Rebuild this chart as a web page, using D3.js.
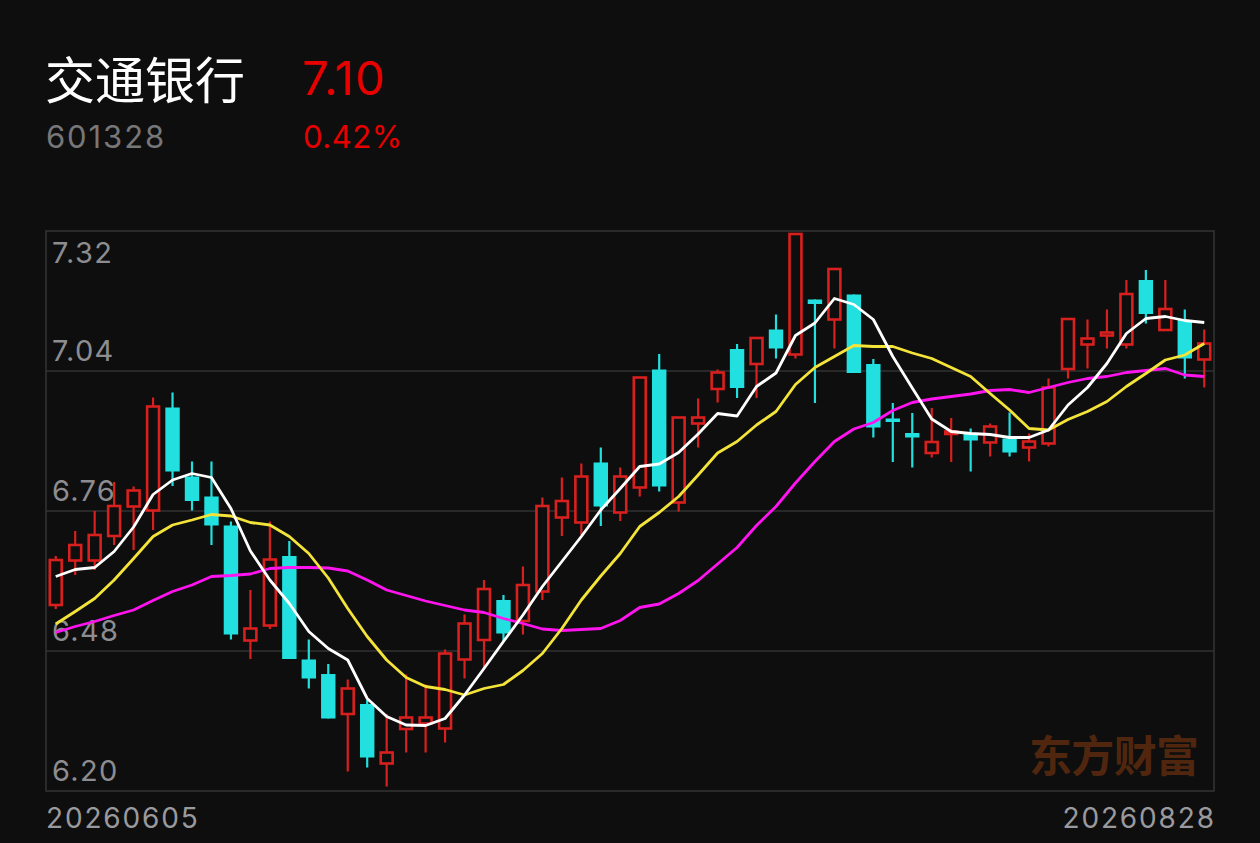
<!DOCTYPE html>
<html>
<head>
<meta charset="utf-8">
<script src="https://cdn.jsdelivr.net/npm/d3@7/dist/d3.min.js"></script>
<style>
  html, body { margin: 0; padding: 0; background: #0e0e0e; }
  svg { display: block; }
</style>
</head>
<body>
<script>
const stockName = "交通银行";
const stockCode = "601328";
const lastPrice = "7.10";
const changePct = "0.42%";
const watermark = "东方财富";

const dates = ["20260605","20260608","20260609","20260610","20260611","20260612",
"20260615","20260616","20260617","20260618","20260622","20260623","20260624","20260625","20260626",
"20260629","20260630","20260701","20260702","20260703","20260706","20260707","20260708","20260709","20260710",
"20260713","20260714","20260715","20260716","20260717","20260720","20260721","20260722","20260723","20260724",
"20260727","20260728","20260729","20260730","20260731","20260803","20260804","20260805","20260806","20260807",
"20260810","20260811","20260812","20260813","20260814","20260817","20260818","20260819","20260820","20260821",
"20260824","20260825","20260826","20260827","20260828"];

const openP  = [6.572,6.661,6.661,6.710,6.769,6.761,6.967,6.829,6.789,6.731,6.501,6.531,6.670,6.463,6.434,6.354,6.374,6.255,6.324,6.335,6.325,6.463,6.502,6.582,6.540,6.599,6.747,6.737,6.857,6.757,6.807,7.043,6.777,6.935,7.004,7.084,7.054,7.123,7.073,7.183,7.143,7.193,7.054,6.945,6.916,6.876,6.915,6.911,6.897,6.905,6.887,6.895,7.044,7.093,7.111,7.093,7.222,7.122,7.142,7.063];
const highP  = [6.670,6.720,6.760,6.818,6.809,6.987,6.997,6.859,6.859,6.739,6.602,6.739,6.700,6.503,6.454,6.423,6.382,6.354,6.433,6.413,6.483,6.553,6.622,6.592,6.649,6.787,6.827,6.855,6.887,6.847,7.027,7.074,6.947,6.985,7.043,7.094,7.106,7.153,7.314,7.183,7.244,7.193,7.064,6.976,6.956,6.966,6.946,6.925,6.935,6.957,6.915,7.025,7.144,7.143,7.163,7.222,7.242,7.222,7.163,7.123];
const lowP   = [6.564,6.632,6.642,6.692,6.682,6.722,6.810,6.761,6.692,6.503,6.464,6.524,6.464,6.405,6.345,6.239,6.247,6.209,6.277,6.277,6.297,6.425,6.445,6.499,6.513,6.582,6.710,6.712,6.730,6.740,6.789,6.799,6.759,6.887,6.977,6.986,6.986,7.065,7.065,6.976,7.085,7.036,6.907,6.858,6.847,6.867,6.858,6.839,6.869,6.869,6.859,6.889,7.025,7.045,7.085,7.085,7.135,7.122,7.025,7.007];
const closeP = [6.662,6.692,6.712,6.770,6.801,6.969,6.839,6.780,6.731,6.513,6.525,6.663,6.464,6.425,6.345,6.405,6.267,6.277,6.347,6.347,6.475,6.535,6.604,6.515,6.612,6.770,6.780,6.829,6.769,6.829,7.027,6.809,6.947,6.947,7.037,7.006,7.106,7.085,7.314,7.174,7.244,7.036,6.927,6.938,6.907,6.898,6.919,6.904,6.929,6.877,6.899,7.007,7.144,7.105,7.117,7.194,7.154,7.164,7.065,7.095];

const ma5  = [6.629,6.643,6.647,6.679,6.728,6.793,6.822,6.835,6.827,6.765,6.680,6.622,6.575,6.519,6.485,6.462,6.385,6.349,6.332,6.331,6.345,6.392,6.445,6.499,6.552,6.609,6.659,6.709,6.762,6.805,6.849,6.854,6.877,6.914,6.955,6.950,7.009,7.036,7.111,7.136,7.185,7.173,7.143,7.069,7.006,6.944,6.919,6.915,6.913,6.907,6.907,6.922,6.972,7.007,7.055,7.115,7.145,7.149,7.141,7.137];
const ma10 = [6.534,6.559,6.585,6.622,6.665,6.709,6.732,6.742,6.753,6.750,6.737,6.732,6.709,6.675,6.626,6.565,6.509,6.462,6.427,6.409,6.403,6.392,6.405,6.413,6.441,6.475,6.525,6.582,6.630,6.675,6.729,6.757,6.789,6.832,6.876,6.899,6.932,6.959,7.013,7.047,7.069,7.091,7.089,7.089,7.076,7.065,7.047,7.029,6.995,6.962,6.925,6.922,6.943,6.959,6.979,7.009,7.035,7.062,7.072,7.095];
const ma20 = [6.517,6.529,6.539,6.551,6.562,6.581,6.599,6.612,6.629,6.631,6.634,6.645,6.647,6.647,6.646,6.640,6.622,6.602,6.591,6.580,6.571,6.562,6.557,6.545,6.535,6.524,6.521,6.523,6.525,6.541,6.567,6.574,6.595,6.621,6.654,6.687,6.731,6.769,6.816,6.859,6.899,6.924,6.937,6.961,6.977,6.984,6.989,6.994,7.001,7.003,6.997,7.007,7.017,7.025,7.029,7.037,7.041,7.045,7.032,7.029];

const yTicks = [7.32, 7.04, 6.76, 6.48, 6.20];
const gridTicks = [7.04, 6.76, 6.48];

(function draw() {
const W = 1260, H = 843;
const BG = "#0e0e0e", RED = "#d8201e", CYAN = "#22e0e0";
const NUM_FONT = "Inter, 'Noto Sans', sans-serif";
const CJK_FONT = "'Noto Sans CJK SC', sans-serif";

const svg = d3.select("body").append("svg").attr("width", W).attr("height", H);
svg.append("rect").attr("width", W).attr("height", H).attr("fill", BG);

const pL = 46, pR = 1214, pT = 231, pB = 791;
const x = d3.scaleBand().domain(dates).range([pL, pR]).padding(0);
const y = d3.scaleLinear().domain([6.20, 7.32]).range([pB, pT]);
const cx = d => x(d) + x.bandwidth() / 2;

// header
svg.append("text").attr("x", 45).attr("y", 99).attr("fill", "#ffffff")
  .attr("font-family", CJK_FONT).attr("font-size", 50).text(stockName);
svg.append("text").attr("x", 302).attr("y", 95).attr("fill", "#e60000")
  .attr("font-family", NUM_FONT).attr("font-size", 47).attr("letter-spacing", 1.2).text(lastPrice);
svg.append("text").attr("x", 46).attr("y", 148).attr("fill", "#777779")
  .attr("font-family", NUM_FONT).attr("font-size", 31).attr("letter-spacing", 1.9).text(stockCode);
svg.append("text").attr("x", 303).attr("y", 148).attr("fill", "#e60000")
  .attr("font-family", NUM_FONT).attr("font-size", 31).attr("letter-spacing", 0.5).text(changePct);

// watermark
svg.append("text").attr("x", 1029).attr("y", 772).attr("fill", "#50260f")
  .attr("font-family", CJK_FONT).attr("font-weight", 700).attr("font-size", 43)
  .attr("textLength", 170).text(watermark);

// grid
svg.append("g").selectAll("line").data(gridTicks).join("line")
  .attr("x1", pL).attr("x2", pR)
  .attr("y1", d => y(d)).attr("y2", d => y(d))
  .attr("stroke", "#282828").attr("stroke-width", 2);
svg.append("rect").attr("x", pL).attr("y", pT)
  .attr("width", pR - pL).attr("height", pB - pT)
  .attr("fill", "none").attr("stroke", "#353535").attr("stroke-width", 1.5);

// y tick labels
svg.append("g").selectAll("text").data(yTicks).join("text")
  .attr("x", 52)
  .attr("y", (d, i) => i === 0 ? y(d) + 32 : y(d) - 10)
  .attr("fill", "#8d8d91").attr("font-family", NUM_FONT).attr("font-size", 29)
  .attr("letter-spacing", 1.3)
  .text(d => d.toFixed(2));

// x labels
svg.append("text").attr("x", 46).attr("y", 828).attr("fill", "#9a9a9e")
  .attr("font-family", NUM_FONT).attr("font-size", 28).attr("letter-spacing", 1.85).text(dates[0]);
svg.append("text").attr("x", 1214 + 1.85).attr("y", 828).attr("text-anchor", "end").attr("fill", "#9a9a9e")
  .attr("font-family", NUM_FONT).attr("font-size", 28).attr("letter-spacing", 1.85).text(dates[dates.length - 1]);

// candles
const candles = dates.map((d, i) => ({ d, o: openP[i], h: highP[i], l: lowP[i], c: closeP[i] }));
const bw = x.bandwidth() * 0.74;
const cg = svg.append("g");
candles.forEach(k => {
  const up = k.c >= k.o;
  const col = up ? RED : CYAN;
  cg.append("line").attr("x1", cx(k.d)).attr("x2", cx(k.d))
    .attr("y1", y(k.h)).attr("y2", y(k.l))
    .attr("stroke", col).attr("stroke-width", 2.2);
  const yt = y(Math.max(k.o, k.c)), yb = y(Math.min(k.o, k.c));
  const raw = yb - yt;
  const hgt = Math.max(raw, 2.5);
  if (up) {
    cg.append("rect").attr("x", cx(k.d) - bw / 2 + 1.25).attr("y", yt)
      .attr("width", bw - 2.5).attr("height", hgt)
      .attr("fill", BG).attr("stroke", col).attr("stroke-width", 2.6);
  } else {
    const pad = raw < 3.5 ? 1.5 : 0;
    cg.append("rect").attr("x", cx(k.d) - bw / 2).attr("y", yt - pad)
      .attr("width", bw).attr("height", Math.max(raw, 0) + 2 * pad)
      .attr("fill", col);
  }
});

// moving averages
const line = d3.line().x((v, i) => cx(dates[i])).y(v => y(v));
[[ma20, "#ff14f0"], [ma10, "#f4e43a"], [ma5, "#ffffff"]].forEach(([arr, col]) => {
  svg.append("path").attr("d", line(arr)).attr("fill", "none")
    .attr("stroke", col).attr("stroke-width", 2.8).attr("stroke-linejoin", "round");
});
})();
</script>
</body>
</html>
